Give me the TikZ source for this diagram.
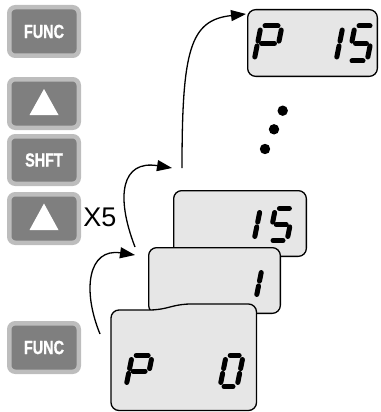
\documentclass[tikz,border=0pt]{standalone}
\usepackage{fontspec}
\setmainfont{Liberation Sans}
\newfontfamily\btnfont{Liberation Sans}[FakeBold=1.2]
\usetikzlibrary{arrows.meta}
\definecolor{btnout}{HTML}{BDBDBD}
\definecolor{btnin}{HTML}{7F7F7F}
\definecolor{lcd}{HTML}{E6E6E6}
\tikzset{
  btn/.style={draw=btnout, fill=btnin, line width=4.5pt, rounded corners=6pt,
    minimum width=69.5pt, minimum height=48.5pt, inner sep=0pt, text=white,
    font=\btnfont\fontsize{19}{19}\selectfont\bfseries},
  disp/.style={draw=black, fill=lcd, line width=1.3pt, rounded corners=8pt},
  dispnode/.style={disp, inner sep=0pt},
  segline/.style={line width=5pt, line cap=round},
  flow/.style={line width=1.3pt, -{Triangle[length=15pt,width=11pt]}},
  dotst/.style={fill=black},
  lbl/.style={font=\fontsize{27}{27}\selectfont, inner sep=0pt},
}
\def\dg{4}
\newcommand\segA{\draw[segline] (\dg,-\dH) -- (\dW-\dg,-\dH);}
\newcommand\segB{\draw[segline] (\dW,-\dH+\dg) -- (\dW,-\dH/2-\dg*0.6);}
\newcommand\segC{\draw[segline] (\dW,-\dH/2+\dg*0.6) -- (\dW,-\dg);}
\newcommand\segD{\draw[segline] (\dg,0) -- (\dW-\dg,0);}
\newcommand\segE{\draw[segline] (0,-\dg) -- (0,-\dH/2+\dg*0.6);}
\newcommand\segF{\draw[segline] (0,-\dH/2-\dg*0.6) -- (0,-\dH+\dg);}
\newcommand\segG{\draw[segline] (\dg,-\dH/2) -- (\dW-\dg,-\dH/2);}
\begin{document}
\begin{tikzpicture}[x=1pt,y=-1pt]
\useasboundingbox (0,0) rectangle (380,412);
% buttons
\node[btn] (f1) at (44,31.5) {\scalebox{0.76}[1]{FUNC}};
\node[btn] (u1) at (44,103.5) {};
\node[btn, minimum height=47.5pt] (s1) at (44,160) {\scalebox{0.76}[1]{SHFT}};
\node[btn] (u2) at (44,218.5) {};
\node[btn] (f2) at (44,347.5) {\scalebox{0.76}[1]{FUNC}};
\fill[white] ([shift={(-14.5,11.5)}]u1.center) -- ([shift={(0,-14.5)}]u1.center) -- ([shift={(14.5,11.5)}]u1.center) -- cycle;
\fill[white] ([shift={(-14.5,11.5)}]u2.center) -- ([shift={(0,-15)}]u2.center) -- ([shift={(14.5,11.5)}]u2.center) -- cycle;
\node[lbl] (x5) at (100,217) {X5};
% displays
\node[dispnode, minimum width=129.7pt, minimum height=66.7pt] (p15) at (312.5,43) {};
\node[dispnode, minimum width=132.7pt, minimum height=65.7pt] (d15) at (240,223.5) {};
\node[dispnode, minimum width=131.7pt, minimum height=65.7pt] (d1) at (214.5,280.5) {};
\draw[disp] (111,340) -- (111,310) -- (158,310) -- (182,304) -- (256.5,304) -- (256.5,410.5) -- (111,410.5) -- cycle;
% digits: P 15
\begin{scope}[shift={(254,61)}, xslant=0.2]\def\dW{21}\def\dH{35}\segA\segB\segF\segE\segG\end{scope}
\begin{scope}[shift={(317,61)}, xslant=0.2]\def\dW{19}\def\dH{35}\segB\segC\end{scope}
\begin{scope}[shift={(348,61)}, xslant=0.2]\def\dW{19}\def\dH{35}\segA\segF\segG\segC\segD\end{scope}
% digits: 15
\begin{scope}[shift={(236,240.5)}, xslant=0.2]\def\dW{18}\def\dH{32}\segB\segC\end{scope}
\begin{scope}[shift={(269,240.5)}, xslant=0.2]\def\dW{18}\def\dH{32}\segA\segF\segG\segC\segD\end{scope}
% digits: 1
\begin{scope}[shift={(238,298.5)}, xslant=0.2]\def\dW{18}\def\dH{30}\segB\segC\end{scope}
% digits: P 0
\begin{scope}[shift={(126,386.5)}, xslant=0.2]\def\dW{20}\def\dH{31}\segA\segB\segF\segE\segG\end{scope}
\begin{scope}[shift={(220,386.5)}, xslant=0.2]\def\dW{17}\def\dH{31}\segA\segB\segC\segD\segE\segF\end{scope}
% dots
\fill[dotst] (282.7,110.7) circle (5.2);
\fill[dotst] (274,129.3) circle (5.2);
\fill[dotst] (265,149) circle (5.2);
% arrows
\coordinate (a1s) at (100,334);
\coordinate (a1e) at (135,255);
\coordinate (a2s) at (135,247);
\coordinate (a2e) at (172,168);
\coordinate (a3s) at (182,168);
\coordinate (a3e) at (246,14);
\draw[flow] (a1s) .. controls (82,290) and (88,248) .. (a1e);
\draw[flow] (a2s) .. controls (115,195) and (122,160) .. (a2e);
\draw[flow] (a3s) .. controls (182,50) and (190,20) .. (a3e);
\end{tikzpicture}
\end{document}
